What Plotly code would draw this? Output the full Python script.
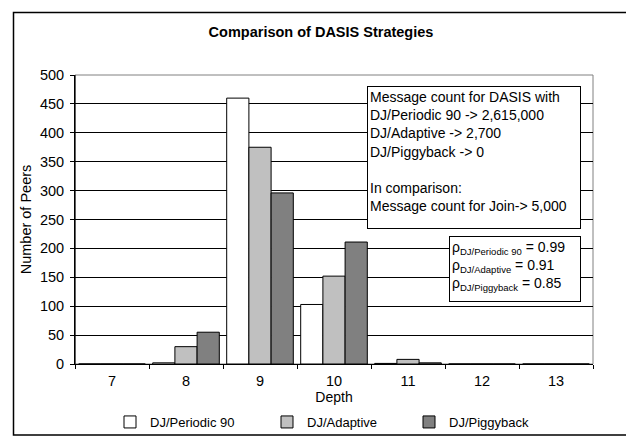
import plotly.graph_objects as go

depths = ["7", "8", "9", "10", "11", "12", "13"]
periodic = [0, 2, 460, 103, 1, 0, 0]
adaptive = [0, 30, 375, 152, 8, 0, 0]
piggyback = [0, 55, 296, 211, 2, 0, 0]
series_names = ["DJ/Periodic 90", "DJ/Adaptive", "DJ/Piggyback"]
colors = ["#FFFFFF", "#C0C0C0", "#808080"]
y_ticks = [0, 50, 100, 150, 200, 250, 300, 350, 400, 450, 500]

FONT = "Liberation Sans, Arial, sans-serif"
OFF = 8  # page body margin
W, H = 634 - OFF, 438 - OFF
# plot area in reference (screen) pixels
L, R, T, B = 75, 593, 75, 364
PW, PH = R - L, B - T

def px(xp):
    return (xp - L) / PW

def py(yp):
    return (B - yp) / PH

fig = go.Figure()
legend_ids = ["legend", "legend2", "legend3"]
for name, vals, col, lg in zip(series_names, [periodic, adaptive, piggyback], colors, legend_ids):
    fig.add_trace(go.Bar(x=depths, y=vals, name=name, legend=lg,
                         marker=dict(color=col, line=dict(color="black", width=1))))

legend_text_x = [150, 307, 449]
leg_common = dict(orientation="h", xanchor="left", y=py(407), yanchor="top",
                  font=dict(size=13), bgcolor="rgba(0,0,0,0)", borderwidth=0)

fig.update_layout(
    width=W, height=H,
    margin=dict(l=L - OFF, r=W - (R - OFF), t=T - OFF, b=H - (B - OFF), autoexpand=False),
    paper_bgcolor="white", plot_bgcolor="white",
    font=dict(family=FONT, size=12, color="black"),
    barmode="group", bargap=0.1, bargroupgap=0,
    title=dict(text="<b>Comparison of DASIS Strategies</b>", x=(321 - OFF) / W, xanchor="center",
               y=1 - (32 - OFF) / H, yanchor="middle", font=dict(size=14.5)),
    showlegend=True,
    legend=dict(x=px(legend_text_x[0] - 40), **leg_common),
    legend2=dict(x=px(legend_text_x[1] - 40), **leg_common),
    legend3=dict(x=px(legend_text_x[2] - 40), **leg_common),
    xaxis=dict(title=dict(text="Depth", font=dict(size=14), standoff=3),
               showline=True, linecolor="black", linewidth=1, automargin=False,
               ticks="outside", tickson="boundaries", ticklen=4, tickcolor="black",
               ticklabelstandoff=4,
               tickfont=dict(size=14.5), showgrid=False),
    yaxis=dict(title=dict(text="Number of Peers", font=dict(size=14.5), standoff=4),
               range=[0, 500], tickvals=y_ticks, showline=True, linecolor="black", linewidth=1,
               ticks="outside", ticklen=4, tickcolor="black", tickfont=dict(size=14.5),
               ticklabelstandoff=3, automargin=False,
               showgrid=True, gridcolor="black", gridwidth=1, zeroline=False),
)

# plot area border (gray) and outer chart border
fig.add_shape(type="rect", xref="paper", yref="paper", x0=0, x1=1, y0=0, y1=1,
              line=dict(color="#808080", width=1), layer="below")
fig.add_shape(type="line", xref="paper", yref="paper", x0=0, x1=0, y0=0, y1=1,
              line=dict(color="black", width=1))
fig.add_shape(type="rect", xref="paper", yref="paper",
              x0=px(13.5), x1=px(630), y0=py(435), y1=py(12.5),
              line=dict(color="black", width=1.5))

box1 = ("Message count for DASIS with<br>DJ/Periodic 90 -> 2,615,000<br>DJ/Adaptive -> 2,700<br>"
        "DJ/Piggyback -> 0<br><br>In comparison:<br>Message count for Join-> 5,000")
fig.add_annotation(xref="paper", yref="paper", x=px(367), y=py(86),
                   xanchor="left", yanchor="top", text=box1, showarrow=False, align="left",
                   valign="top", width=208, height=137, bgcolor="white", bordercolor="black",
                   borderwidth=1, borderpad=2, font=dict(size=14))

def sub(s):
    return "<sub><span style='font-size:9.5px'>" + s + "</span></sub>"

box2 = ("ρ" + sub("DJ/Periodic 90") + " = 0.99<br>ρ" + sub("DJ/Adaptive") + " = 0.91<br>"
        "ρ" + sub("DJ/Piggyback") + " = 0.85")
fig.add_annotation(xref="paper", yref="paper", x=px(449), y=py(236),
                   xanchor="left", yanchor="top", text=box2, showarrow=False, align="left",
                   valign="top", width=126, height=60, bgcolor="white", bordercolor="black",
                   borderwidth=1, borderpad=2, font=dict(size=14))

fig.write_html("out.html")
